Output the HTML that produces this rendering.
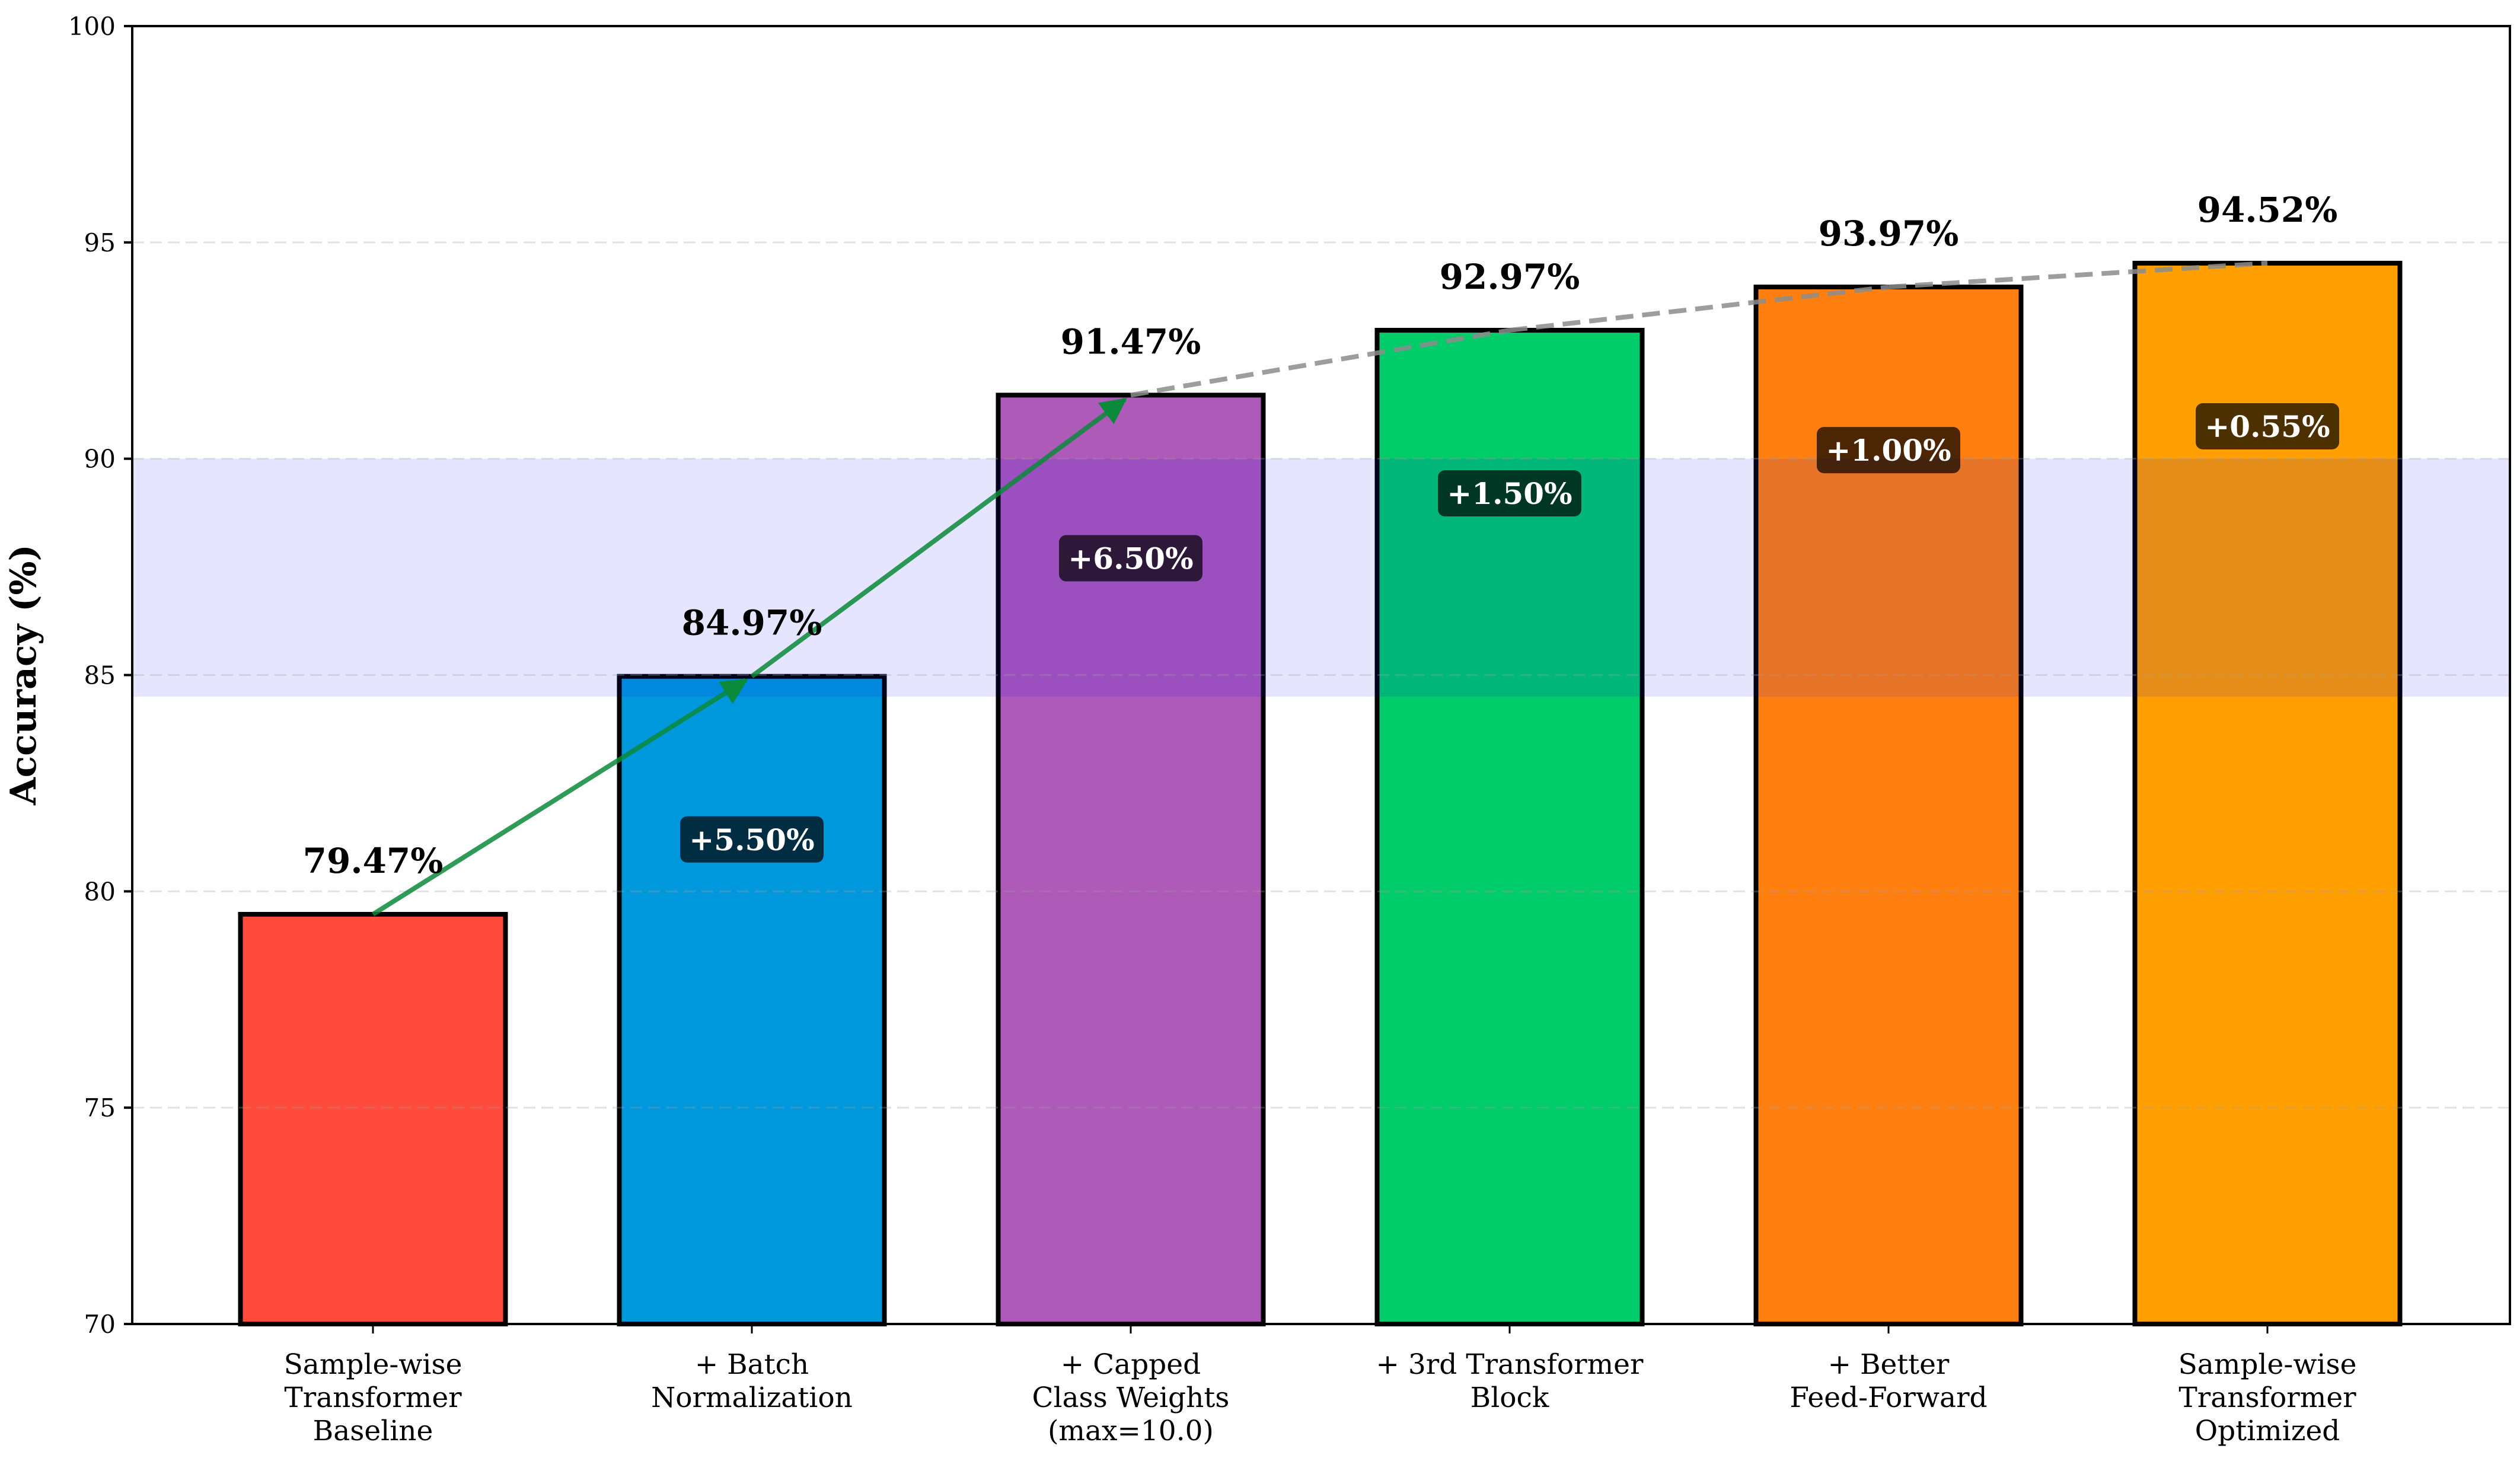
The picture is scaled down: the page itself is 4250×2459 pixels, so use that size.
<!DOCTYPE html>
<html><head><meta charset="utf-8"><style>
html,body{margin:0;padding:0;background:#fff}
svg{display:block}
text{font-family:"DejaVu Serif","Liberation Serif",serif}
</style></head><body>
<svg id="chart" width="4250" height="2459" viewBox="0 0 4250 2459" xmlns="http://www.w3.org/2000/svg">
<rect x="0" y="0" width="4250" height="2459" fill="#fff"/>
<g id="layer"></g>
</svg>
<script>
const categories = [["Sample-wise","Transformer","Baseline"],["+ Batch","Normalization"],["+ Capped","Class Weights","(max=10.0)"],["+ 3rd Transformer","Block"],["+ Better","Feed-Forward"],["Sample-wise","Transformer","Optimized"]];
const values = [79.47, 84.97, 91.47, 92.97, 93.97, 94.52];
const valueLabels = ["79.47%","84.97%","91.47%","92.97%","93.97%","94.52%"];
const deltaLabels = ["","+5.50%","+6.50%","+1.50%","+1.00%","+0.55%"];
const colors = ["#ff4b3b","#0098dc","#ae5ab8","#00cc6a","#ff8010","#ffa000"];
const yTicks = [70,75,80,85,90,95,100];
const bandRange = [84.5, 90];

const NS="http://www.w3.org/2000/svg";
const L=223,R=4233,T=44,B=2233,ymin=70,ymax=100;
const step=639, x0=629, bw=447;
const xS=i=>x0+i*step;
const yS=v=>B-(v-ymin)/(ymax-ymin)*(B-T);
const g=document.getElementById('layer');
function el(tag,attrs,parent){const e=document.createElementNS(NS,tag);for(const k in attrs)e.setAttribute(k,attrs[k]);(parent||g).appendChild(e);return e;}

const defs=el('defs',{});
const mk=el('marker',{id:'ah',markerWidth:'6',markerHeight:'6',refX:'5',refY:'3',orient:'auto',markerUnits:'strokeWidth'},defs);
el('path',{d:'M0,0.5 L5,3 L0,5.5 Z',fill:'#0a8a3a',stroke:'#0a8a3a','stroke-width':'0.5'},mk);

values.forEach((v,i)=>{
  const r=el('rect',{x:xS(i)-bw/2,y:yS(v),width:bw,height:B-yS(v),fill:colors[i],stroke:'#000','stroke-width':8});
  
  
});
const band=el('rect',{x:L,y:yS(bandRange[1]),width:R-L,height:yS(bandRange[0])-yS(bandRange[1]),fill:'rgba(0,0,255,0.1)'});


yTicks.forEach(t=>{
  if(t===ymin||t===ymax)return;
  const ln=el('line',{x1:L,x2:R,y1:yS(t),y2:yS(t),stroke:'rgba(160,160,160,0.3)','stroke-width':3,'stroke-dasharray':'20 10'});
  
  
});
for(let i=0;i<values.length-1;i++){
  const big=values[i+1]-values[i]>2;
  if(big){
    const xa=xS(i),ya=yS(values[i]),xb=xS(i+1),yb=yS(values[i+1]);
    const dx=xb-xa,dy=yb-ya,len=Math.hypot(dx,dy),sh=12;
    const a=el('line',{x1:xa,y1:ya,x2:xb-dx/len*sh,y2:yb-dy/len*sh,stroke:'#0a8a3a','stroke-opacity':0.85,'stroke-width':8,'marker-end':'url(#ah)'});
    
    
  } else {
    const d=el('line',{x1:xS(i),y1:yS(values[i]),x2:xS(i+1),y2:yS(values[i+1]),stroke:'#8c8c8c','stroke-opacity':0.85,'stroke-width':8,'stroke-dasharray':'30 15'});
    
    
  }
}
values.forEach((v,i)=>{
  const t=el('text',{x:xS(i),y:yS(v)-70,'text-anchor':'middle','font-size':58,'font-weight':'bold',fill:'#000'});
  t.textContent=valueLabels[i];
  
  
  if(deltaLabels[i]){
    const cy=yS(v-3.77);
    const bx=el('rect',{x:xS(i)-121,y:cy-39,width:242,height:78,rx:12,fill:'rgba(0,0,0,0.7)'});
    
    
    const dt=el('text',{x:xS(i),y:cy+18,'text-anchor':'middle','font-size':50,'font-weight':'bold',fill:'#fff'});
    dt.textContent=deltaLabels[i];
    
    
  }
});
const fr=el('rect',{x:L,y:T,width:R-L,height:B-T,fill:'none',stroke:'#000','stroke-width':4});


yTicks.forEach(t=>{
  const tk=el('line',{x1:L-14,x2:L,y1:yS(t),y2:yS(t),stroke:'#000','stroke-width':4});
  
  
  const lb=el('text',{x:L-28,y:yS(t)+15,'text-anchor':'end','font-size':42,fill:'#000'});
  lb.textContent=t;
  
  
});
categories.forEach((c,i)=>{
  const tk=el('line',{x1:xS(i),x2:xS(i),y1:B,y2:B+16,stroke:'#000','stroke-width':3});
  
  
  const lb=el('text',{x:xS(i),'text-anchor':'middle','font-size':47,fill:'#000'});
  
  
  c.forEach((line,j)=>{
    const ts=el('tspan',{x:xS(i),y:2317+j*56},lb);
    ts.textContent=line;
  });
});
const yt=el('text',{x:0,y:0,transform:'translate(60,1138) rotate(-90)','text-anchor':'middle','font-size':60,'font-weight':'bold',fill:'#000'});
yt.textContent='Accuracy (%)';


</script>
</body></html>
